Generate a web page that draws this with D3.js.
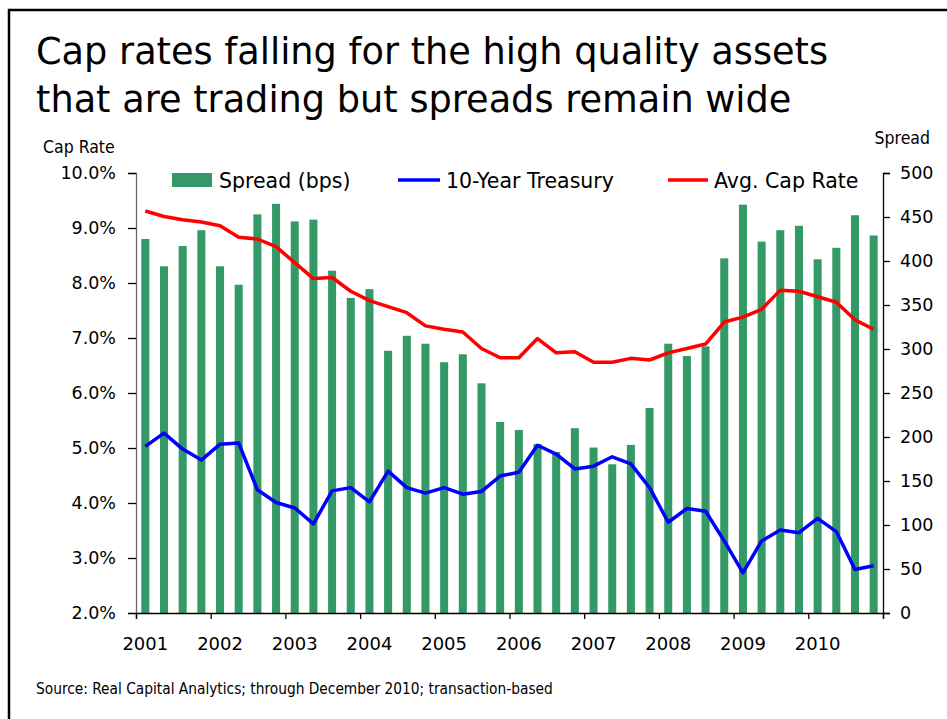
<!DOCTYPE html>
<html>
<head>
<meta charset="utf-8">
<title>Cap rates and spreads</title>
<script src="https://cdn.jsdelivr.net/npm/d3@7"></script>
<style>
  body { margin: 0; background: #fff; }
  svg { display: block; font-family: "DejaVu Sans", Verdana, sans-serif; }
</style>
</head>
<body>
<script>
    var width = 947;
    var height = 719;

    // quarterly data, 2001 Q1 .. 2010 Q4
    var years = [2001, 2002, 2003, 2004, 2005, 2006, 2007, 2008, 2009, 2010];
    var quarters = [];
    years.forEach(function(y) { for (var q = 1; q <= 4; q++) quarters.push(y + "Q" + q); });

    var spread = [425, 394, 417, 435, 394, 373, 453, 465, 445, 447,
                  389, 358, 368, 298, 315, 306, 285, 294, 261, 217,
                  208, 192, 183, 210, 188, 169, 191, 233, 306, 292,
                  303, 403, 464, 422, 435, 440, 402, 415, 452, 429];
    var treasury = [5.03, 5.27, 4.98, 4.78, 5.07, 5.09, 4.24, 4.01, 3.91, 3.62,
                    4.22, 4.28, 4.02, 4.58, 4.28, 4.18, 4.28, 4.16, 4.21, 4.49,
                    4.56, 5.05, 4.89, 4.62, 4.67, 4.84, 4.71, 4.28, 3.65, 3.90,
                    3.85, 3.31, 2.73, 3.31, 3.51, 3.46, 3.72, 3.48, 2.79, 2.86];
    var capRate = [9.31, 9.21, 9.15, 9.11, 9.04, 8.83, 8.80, 8.66, 8.37, 8.08,
                   8.10, 7.85, 7.68, 7.57, 7.46, 7.22, 7.16, 7.11, 6.81, 6.64,
                   6.64, 6.99, 6.73, 6.75, 6.56, 6.56, 6.63, 6.60, 6.73, 6.81,
                   6.89, 7.29, 7.38, 7.52, 7.87, 7.85, 7.75, 7.65, 7.33, 7.16];
    var leftTicks = [2, 3, 4, 5, 6, 7, 8, 9, 10];
    var rightTicks = [0, 50, 100, 150, 200, 250, 300, 350, 400, 450, 500];

    var plotLeft = 136, plotRight = 883, plotTop = 173, plotBottom = 613;

    var svg = d3.select("body").append("svg")
        .attr("width", width)
        .attr("height", height);

    // frame
    svg.append("rect")
        .attr("x", 9).attr("y", 10)
        .attr("width", 1000).attr("height", 1000)
        .attr("fill", "none").attr("stroke", "#000").attr("stroke-width", 2.5);

    // title
    var title = svg.append("text")
        .attr("x", 36).attr("y", 64)
        .attr("font-size", 36.7).attr("fill", "#000");
    title.append("tspan").attr("x", 36).text("Cap rates falling for the high quality assets");
    title.append("tspan").attr("x", 36).attr("dy", 48).text("that are trading but spreads remain wide");

    var x = d3.scaleBand().domain(quarters).range([plotLeft, plotRight])
        .paddingInner(0.57).paddingOuter(0.285);
    var xYear = d3.scaleLinear().domain([2001, 2011]).range([plotLeft, plotRight]);
    var yL = d3.scaleLinear().domain([2, 10]).range([plotBottom, plotTop]);
    var yR = d3.scaleLinear().domain([0, 500]).range([plotBottom, plotTop]);

    // bars
    svg.append("g").selectAll("rect")
        .data(spread)
        .enter()
        .append("rect")
        .attr("x", function(d, i) { return x(quarters[i]); })
        .attr("y", function(d) { return yR(d); })
        .attr("width", x.bandwidth())
        .attr("height", function(d) { return yR(0) - yR(d); })
        .attr("fill", "#339966");

    var cx = function(d, i) { return x(quarters[i]) + x.bandwidth() / 2; };

    svg.append("path")
        .datum(capRate)
        .attr("fill", "none").attr("stroke", "#ff0000").attr("stroke-width", 3.5)
        .attr("stroke-linejoin", "round")
        .attr("d", d3.line().x(cx).y(function(d) { return yL(d); }));

    svg.append("path")
        .datum(treasury)
        .attr("fill", "none").attr("stroke", "#0000ff").attr("stroke-width", 3.5)
        .attr("stroke-linejoin", "round")
        .attr("d", d3.line().x(cx).y(function(d) { return yL(d); }));

    // axes
    var gL = svg.append("g")
        .attr("transform", "translate(" + plotLeft + ",0)")
        .call(d3.axisLeft(yL).tickValues(leftTicks).tickSize(8).tickPadding(12)
            .tickFormat(function(d) { return d.toFixed(1) + "%"; }));
    gL.select(".domain").attr("stroke", "#666");

    var gR = svg.append("g")
        .attr("transform", "translate(" + plotRight + ",0)")
        .call(d3.axisRight(yR).tickValues(rightTicks).tickSize(7).tickPadding(10));

    var gX = svg.append("g")
        .attr("transform", "translate(0," + plotBottom + ")")
        .call(d3.axisBottom(xYear).tickValues(d3.range(2001, 2012)).tickSize(6).tickFormat(""));

    svg.selectAll(".tick text")
        .attr("font-family", "DejaVu Sans, Verdana, sans-serif")
        .attr("font-size", 17.5).attr("fill", "#000");
    svg.selectAll(".domain, .tick line").attr("stroke-width", 1.3);

    svg.append("g").selectAll("text")
        .data(years)
        .enter()
        .append("text")
        .attr("x", function(d) { return x(d + "Q1") + x.bandwidth() / 2; })
        .attr("y", 650)
        .attr("text-anchor", "middle")
        .attr("font-size", 18)
        .text(function(d) { return d; });

    // axis titles
    svg.append("text").attr("x", 43).attr("y", 153)
        .attr("font-size", 17.5).attr("font-family", "DejaVu Sans Condensed, DejaVu Sans")
        .text("Cap Rate");
    svg.append("text").attr("x", 930).attr("y", 144).attr("text-anchor", "end")
        .attr("font-size", 17.5).attr("font-family", "DejaVu Sans Condensed, DejaVu Sans")
        .text("Spread");

    // legend
    var leg = svg.append("g").attr("font-size", 20.5);
    leg.append("rect").attr("x", 172).attr("y", 173).attr("width", 40).attr("height", 14)
        .attr("fill", "#339966");
    leg.append("text").attr("x", 219).attr("y", 188).text("Spread (bps)");
    leg.append("line").attr("x1", 398).attr("x2", 440).attr("y1", 180).attr("y2", 180)
        .attr("stroke", "#0000ff").attr("stroke-width", 3.5);
    leg.append("text").attr("x", 446).attr("y", 188).text("10-Year Treasury");
    leg.append("line").attr("x1", 668).attr("x2", 708).attr("y1", 180).attr("y2", 180)
        .attr("stroke", "#ff0000").attr("stroke-width", 3.5);
    leg.append("text").attr("x", 714).attr("y", 188).text("Avg. Cap Rate");

    // source
    svg.append("text").attr("x", 36).attr("y", 694)
        .attr("font-size", 15.3).attr("font-family", "DejaVu Sans Condensed, DejaVu Sans")
        .text("Source: Real Capital Analytics; through December 2010; transaction-based");
</script>
</body>
</html>
